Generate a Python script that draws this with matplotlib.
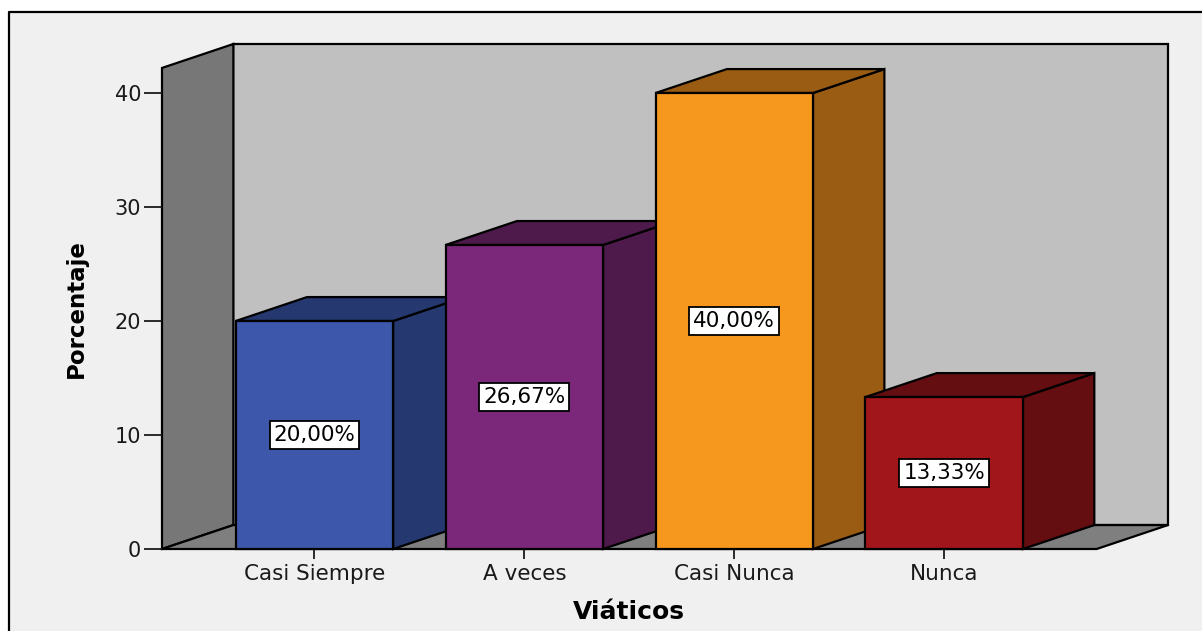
import matplotlib.pyplot as plt
from matplotlib.lines import Line2D
from matplotlib.patches import Polygon, Rectangle

# Viáticos: porcentaje de respuestas por categoría
categorias = ["Casi Siempre", "A veces", "Casi Nunca", "Nunca"]
porcentajes = [20.00, 26.67, 40.00, 13.33]
etiquetas = ["20,00%", "26,67%", "40,00%", "13,33%"]
y_ticks = [0, 10, 20, 30, 40]

colores_frente = ["#3D58AB", "#7B287B", "#F7981E", "#A0161A"]
colores_lado = ["#263870", "#4E1A4C", "#9A5C12", "#640E12"]

W, H = 1202, 631
fig = plt.figure(figsize=(W / 100, H / 100), dpi=100, facecolor="white")
plt.rcParams["font.family"] = ["DejaVu Sans"]

# marco gris del gráfico (solo borde superior e izquierdo dentro de la imagen)
fx, fy = 9 / W, 1 - 12 / H
fig.add_artist(Rectangle((fx, 0), 1 - fx, fy, transform=fig.transFigure,
                         facecolor="#F0F0F0", edgecolor="none", zorder=-2))
fig.add_artist(Line2D([fx, fx, 1], [0, fy, fy], transform=fig.transFigure,
                      color="black", linewidth=1.6, zorder=-1))

ancho = 0.75          # ancho de barra (en unidades de categoría)
px, py = 0.34, 2.1    # desplazamiento de profundidad 3D
y_max = 42.2
x0, x1 = -0.726, len(categorias) - 1 + 0.726

ax = fig.add_axes([162 / W, 1 - 549 / H, (1168 - 162) / W, (549 - 44) / H])
ax.set_xlim(x0, x1 + px)
ax.set_ylim(0, y_max + py)
ax.patch.set_visible(False)
for s in ax.spines.values():
    s.set_visible(False)

lw = 1.6
def poly(pts, color, z):
    ax.add_patch(Polygon(pts, closed=True, facecolor=color, edgecolor="black",
                         linewidth=lw, joinstyle="miter", clip_on=False, zorder=z))

# paredes y piso
poly([(x0 + px, py), (x1 + px, py), (x1 + px, y_max + py), (x0 + px, y_max + py)], "#C0C0C0", 1)
poly([(x0, 0), (x0 + px, py), (x0 + px, y_max + py), (x0, y_max)], "#777777", 1)
poly([(x0, 0), (x1, 0), (x1 + px, py), (x0 + px, py)], "#7F7F7F", 1)

# barras 3D
for i, v in enumerate(porcentajes):
    a, b = i - ancho / 2, i + ancho / 2
    z = 2 + i
    poly([(b, 0), (b + px, py), (b + px, v + py), (b, v)], colores_lado[i], z)
    poly([(a, v), (a + px, v + py), (b + px, v + py), (b, v)], colores_lado[i], z)
    poly([(a, 0), (b, 0), (b, v), (a, v)], colores_frente[i], z)
    ax.text(i, v / 2, etiquetas[i], ha="center", va="center", fontsize=15.5,
            color="black", zorder=10,
            bbox=dict(boxstyle="square,pad=0.18", facecolor="white",
                      edgecolor="black", linewidth=1.3))

ax.set_yticks(y_ticks)
ax.set_yticklabels([str(t) for t in y_ticks])
ax.set_xticks(range(len(categorias)))
ax.set_xticklabels(categorias)
ax.tick_params(axis="y", length=13, width=1.3, pad=2, labelsize=15, colors="#1a1a1a")
ax.tick_params(axis="x", length=7, width=1.3, pad=4, labelsize=15.5, colors="#1a1a1a")

ax.set_ylabel("Porcentaje", fontsize=16.5, fontweight="bold")
ax.yaxis.set_label_coords(-0.085, 0.477)
ax.yaxis.label.set_va("center")
ax.set_xlabel("Viáticos", fontsize=18, fontweight="bold")
ax.xaxis.set_label_coords(0.464, -0.125)
ax.xaxis.label.set_va("center")

fig.savefig("out.png", dpi=100, facecolor=fig.get_facecolor())
